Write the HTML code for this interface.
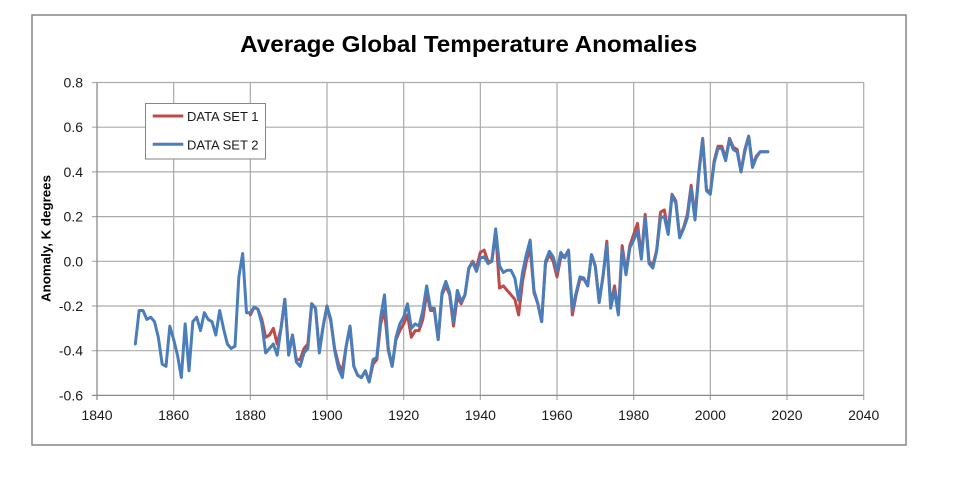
<!DOCTYPE html>
<html><head><meta charset="utf-8"><style>
html,body{margin:0;padding:0;background:#fff;}
svg{display:block;}
text{font-family:"Liberation Sans",Arial,sans-serif;fill:#1a1a1a;}
</style></head><body>
<svg width="960" height="478" viewBox="0 0 960 478" xmlns="http://www.w3.org/2000/svg">
<rect x="0" y="0" width="960" height="478" fill="#fff"/>
<rect x="32" y="15" width="874" height="430" fill="#fff" stroke="#868686" stroke-width="1.5"/>
<text x="468.7" y="52" font-size="23" font-weight="bold" text-anchor="middle" textLength="457" lengthAdjust="spacingAndGlyphs" style="fill:#000">Average Global Temperature Anomalies</text>
<g stroke="#ababab" stroke-width="1.2" fill="none">
<line x1="97" y1="82.5" x2="863.7" y2="82.5"/>
<line x1="92" y1="127.2" x2="863.7" y2="127.2"/>
<line x1="92" y1="171.9" x2="863.7" y2="171.9"/>
<line x1="92" y1="216.6" x2="863.7" y2="216.6"/>
<line x1="92" y1="261.3" x2="863.7" y2="261.3"/>
<line x1="92" y1="306" x2="863.7" y2="306"/>
<line x1="92" y1="350.7" x2="863.7" y2="350.7"/>
<line x1="92" y1="82.5" x2="97" y2="82.5"/>
<line x1="173.67" y1="82.5" x2="173.67" y2="400"/>
<line x1="250.33" y1="82.5" x2="250.33" y2="400"/>
<line x1="327" y1="82.5" x2="327" y2="400"/>
<line x1="403.67" y1="82.5" x2="403.67" y2="400"/>
<line x1="480.33" y1="82.5" x2="480.33" y2="400"/>
<line x1="557" y1="82.5" x2="557" y2="400"/>
<line x1="633.67" y1="82.5" x2="633.67" y2="400"/>
<line x1="710.33" y1="82.5" x2="710.33" y2="400"/>
<line x1="787" y1="82.5" x2="787" y2="400"/>
<line x1="863.7" y1="82.5" x2="863.7" y2="400"/>
</g>
<g stroke="#8c8c8c" stroke-width="1.3">
<line x1="97" y1="82.5" x2="97" y2="400"/>
<line x1="92" y1="395.4" x2="863.7" y2="395.4"/>
</g>
<g font-size="14" text-anchor="end">
<text x="83" y="87.5">0.8</text>
<text x="83" y="132.2">0.6</text>
<text x="83" y="176.9">0.4</text>
<text x="83" y="221.6">0.2</text>
<text x="83" y="266.3">0.0</text>
<text x="83" y="311">-0.2</text>
<text x="83" y="355.7">-0.4</text>
<text x="83" y="400.4">-0.6</text>
</g>
<g font-size="14" text-anchor="middle">
<text x="97" y="420">1840</text>
<text x="173.67" y="420">1860</text>
<text x="250.33" y="420">1880</text>
<text x="327" y="420">1900</text>
<text x="403.67" y="420">1920</text>
<text x="480.33" y="420">1940</text>
<text x="557" y="420">1960</text>
<text x="633.67" y="420">1980</text>
<text x="710.33" y="420">2000</text>
<text x="787" y="420">2020</text>
<text x="863.7" y="420">2040</text>
</g>
<text transform="translate(50.5,238.5) rotate(-90)" font-size="13" font-weight="bold" text-anchor="middle" textLength="127" lengthAdjust="spacingAndGlyphs" style="fill:#000">Anomaly, K degrees</text>
<g transform="translate(97,261.3) scale(3.83333,-223.5) translate(-1840,0)" fill="none" stroke-linejoin="round" stroke-linecap="round">
<polyline vector-effect="non-scaling-stroke" stroke="#be4b48" stroke-width="3" points="1880,-0.24 1881,-0.205 1882,-0.215 1883,-0.26 1884,-0.34 1885,-0.33 1886,-0.30 1887,-0.37 1888,-0.30 1889,-0.17 1890,-0.41 1891,-0.33 1892,-0.44 1893,-0.44 1894,-0.39 1895,-0.37 1896,-0.19 1897,-0.21 1898,-0.40 1899,-0.29 1900,-0.20 1901,-0.27 1902,-0.39 1903,-0.46 1904,-0.49 1905,-0.38 1906,-0.29 1907,-0.47 1908,-0.51 1909,-0.52 1910,-0.49 1911,-0.54 1912,-0.46 1913,-0.44 1914,-0.28 1915,-0.22 1916,-0.40 1917,-0.47 1918,-0.35 1919,-0.31 1920,-0.28 1921,-0.24 1922,-0.34 1923,-0.31 1924,-0.31 1925,-0.26 1926,-0.14 1927,-0.22 1928,-0.22 1929,-0.35 1930,-0.15 1931,-0.11 1932,-0.15 1933,-0.29 1934,-0.16 1935,-0.19 1936,-0.15 1937,-0.03 1938,0 1939,-0.03 1940,0.04 1941,0.05 1942,0 1943,0 1944,0.13 1945,-0.12 1946,-0.11 1947,-0.13 1948,-0.15 1949,-0.17 1950,-0.24 1951,-0.09 1952,0 1953,0.06 1954,-0.14 1955,-0.19 1956,-0.27 1957,-0.01 1958,0.03 1959,0 1960,-0.07 1961,0.02 1962,0.02 1963,0.05 1964,-0.24 1965,-0.15 1966,-0.08 1967,-0.08 1968,-0.11 1969,0.03 1970,-0.02 1971,-0.18 1972,-0.07 1973,0.09 1974,-0.20 1975,-0.11 1976,-0.23 1977,0.07 1978,-0.05 1979,0.07 1980,0.12 1981,0.17 1982,0.02 1983,0.21 1984,0 1985,-0.02 1986,0.05 1987,0.22 1988,0.23 1989,0.13 1990,0.30 1991,0.27 1992,0.11 1993,0.15 1994,0.21 1995,0.34 1996,0.20 1997,0.40 1998,0.55 1999,0.32 2000,0.31 2001,0.45 2002,0.515 2003,0.515 2004,0.46 2005,0.55 2006,0.51 2007,0.50 2008,0.40 2009,0.50 2010,0.56 2011,0.43 2012,0.47 2013,0.49 2014,0.49 2015,0.49"/>
<polyline vector-effect="non-scaling-stroke" stroke="#4a7ebb" stroke-width="3" points="1850,-0.37 1851,-0.22 1852,-0.22 1853,-0.26 1854,-0.25 1855,-0.27 1856,-0.34 1857,-0.46 1858,-0.47 1859,-0.29 1860,-0.35 1861,-0.42 1862,-0.52 1863,-0.28 1864,-0.49 1865,-0.27 1866,-0.25 1867,-0.31 1868,-0.23 1869,-0.26 1870,-0.27 1871,-0.33 1872,-0.22 1873,-0.30 1874,-0.37 1875,-0.39 1876,-0.38 1877,-0.07 1878,0.035 1879,-0.23 1880,-0.23 1881,-0.205 1882,-0.215 1883,-0.28 1884,-0.41 1885,-0.39 1886,-0.37 1887,-0.42 1888,-0.30 1889,-0.17 1890,-0.42 1891,-0.33 1892,-0.45 1893,-0.47 1894,-0.41 1895,-0.39 1896,-0.19 1897,-0.21 1898,-0.41 1899,-0.29 1900,-0.20 1901,-0.26 1902,-0.40 1903,-0.48 1904,-0.52 1905,-0.38 1906,-0.29 1907,-0.47 1908,-0.51 1909,-0.52 1910,-0.49 1911,-0.54 1912,-0.44 1913,-0.43 1914,-0.25 1915,-0.15 1916,-0.39 1917,-0.47 1918,-0.34 1919,-0.28 1920,-0.25 1921,-0.19 1922,-0.30 1923,-0.28 1924,-0.29 1925,-0.22 1926,-0.11 1927,-0.21 1928,-0.21 1929,-0.35 1930,-0.14 1931,-0.09 1932,-0.14 1933,-0.27 1934,-0.13 1935,-0.18 1936,-0.15 1937,-0.03 1938,-0.005 1939,-0.045 1940,0.015 1941,0.02 1942,-0.01 1943,0 1944,0.145 1945,-0.02 1946,-0.05 1947,-0.04 1948,-0.04 1949,-0.075 1950,-0.175 1951,-0.05 1952,0.03 1953,0.095 1954,-0.13 1955,-0.19 1956,-0.27 1957,0 1958,0.045 1959,0.02 1960,-0.045 1961,0.04 1962,0.015 1963,0.05 1964,-0.22 1965,-0.14 1966,-0.07 1967,-0.075 1968,-0.11 1969,0.03 1970,-0.025 1971,-0.185 1972,-0.065 1973,0.075 1974,-0.21 1975,-0.13 1976,-0.24 1977,0.05 1978,-0.06 1979,0.06 1980,0.095 1981,0.135 1982,0.01 1983,0.195 1984,-0.01 1985,-0.03 1986,0.045 1987,0.195 1988,0.2 1989,0.12 1990,0.295 1991,0.26 1992,0.105 1993,0.145 1994,0.195 1995,0.325 1996,0.185 1997,0.39 1998,0.545 1999,0.315 2000,0.30 2001,0.44 2002,0.505 2003,0.505 2004,0.45 2005,0.545 2006,0.50 2007,0.49 2008,0.40 2009,0.49 2010,0.56 2011,0.42 2012,0.465 2013,0.49 2014,0.49 2015,0.49"/>
</g>
<rect x="145.5" y="103.5" width="120" height="55.5" fill="#fff" stroke="#868686" stroke-width="1"/>
<line x1="152.7" y1="116" x2="183.3" y2="116" stroke="#be4b48" stroke-width="3"/>
<line x1="152.7" y1="144.3" x2="183.3" y2="144.3" stroke="#4a7ebb" stroke-width="3"/>
<text x="187" y="121" font-size="13" textLength="71.5" lengthAdjust="spacingAndGlyphs">DATA SET 1</text>
<text x="187" y="149.3" font-size="13" textLength="71.5" lengthAdjust="spacingAndGlyphs">DATA SET 2</text>
</svg>
</body></html>
